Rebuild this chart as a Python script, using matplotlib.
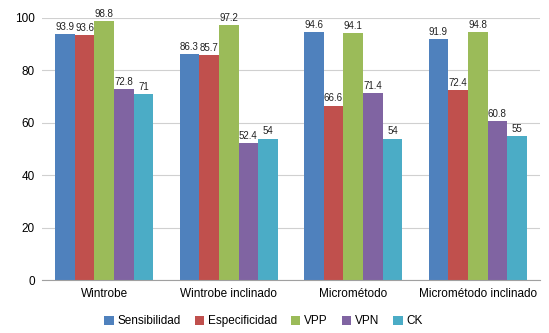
import numpy as np
import matplotlib.pyplot as plt

plt.rcParams['font.family'] = ['Liberation Sans', 'DejaVu Sans']

categorias = ['Wintrobe', 'Wintrobe inclinado', 'Micrométodo', 'Micrométodo inclinado']
series = ['Sensibilidad', 'Especificidad', 'VPP', 'VPN', 'CK']
sensibilidad = [93.9, 86.3, 94.6, 91.9]
especificidad = [93.6, 85.7, 66.6, 72.4]
vpp = [98.8, 97.2, 94.1, 94.8]
vpn = [72.8, 52.4, 71.4, 60.8]
ck = [71, 54, 54, 55]
etiquetas = [['93.9', '86.3', '94.6', '91.9'],
             ['93.6', '85.7', '66.6', '72.4'],
             ['98.8', '97.2', '94.1', '94.8'],
             ['72.8', '52.4', '71.4', '60.8'],
             ['71', '54', '54', '55']]

valores = [sensibilidad, especificidad, vpp, vpn, ck]
colores = ['#4F81BD', '#C0504D', '#9BBB59', '#8064A2', '#4BACC6']

fig = plt.figure(figsize=(5.49, 3.33), dpi=100)
ax = fig.add_axes([0.0765, 0.159, 0.907, 0.787])

x = np.arange(len(categorias))
w = 0.158
for i, (vals, c, name) in enumerate(zip(valores, colores, series)):
    pos = x + (i - 2) * w
    ax.bar(pos, vals, width=w, color=c, label=name, zorder=2)
    for p, v, t in zip(pos, vals, etiquetas[i]):
        ax.text(p, v + 0.8, t, ha='center', va='bottom', fontsize=7, color='#222222')

ax.set_ylim(0, 100)
ax.set_xlim(-0.5, 3.5)
ax.set_yticks(range(0, 101, 20))
ax.set_xticks(x)
ax.set_xticklabels(categorias, fontsize=8.5)
ax.tick_params(axis='y', labelsize=8.5, length=0, pad=5)
ax.tick_params(axis='x', length=0, pad=6)
ax.grid(axis='y', color='#D0D0D0', linewidth=0.8, zorder=0)
for s in ['top', 'right', 'left']:
    ax.spines[s].set_visible(False)
ax.spines['bottom'].set_color('#A0A0A0')

fig.legend(loc='lower center', bbox_to_anchor=(0.48, -0.015), ncol=5, frameon=False,
           fontsize=8.5, handlelength=0.8, handleheight=0.8, handletextpad=0.3,
           columnspacing=1.2)

plt.savefig('out.png', dpi=100)
